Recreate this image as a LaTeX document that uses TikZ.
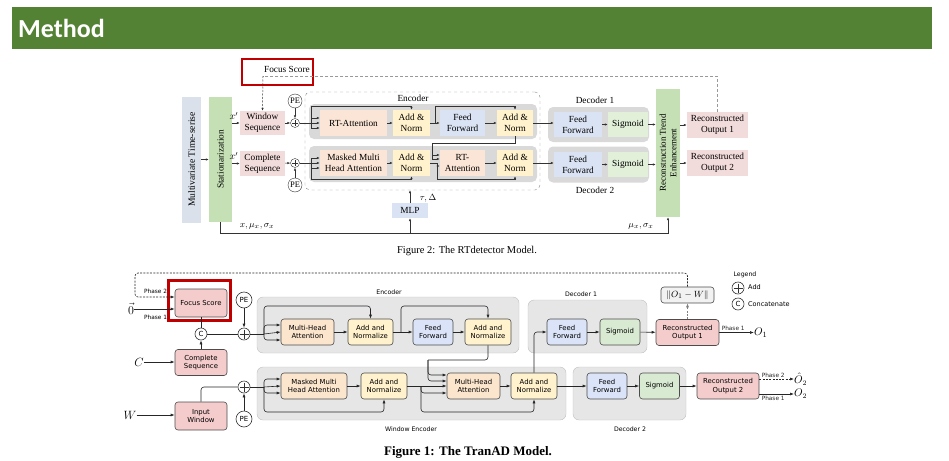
\documentclass[tikz,border=0pt]{standalone}
\usepackage{fontspec}
\setmainfont{Liberation Serif}
\newfontfamily\dejavu{DejaVu Sans}
\newfontfamily\carlito{Carlito}
\usetikzlibrary{arrows.meta}
\definecolor{bandgreen}{HTML}{548235}
\definecolor{hired}{HTML}{C00000}
\definecolor{tblue}{HTML}{DAE1EB}
\definecolor{tgreen}{HTML}{C5E0B4}
\definecolor{tpink}{HTML}{F2DCDB}
\definecolor{tpeach}{HTML}{FBE5D6}
\definecolor{tyellow}{HTML}{FFF2CC}
\definecolor{tff}{HTML}{DAE3F3}
\definecolor{tsig}{HTML}{E2F0D9}
\definecolor{tgray}{HTML}{D9D9D9}
\definecolor{bpink}{HTML}{F4CCCC}
\definecolor{bpeach}{HTML}{FCE5CD}
\definecolor{byellow}{HTML}{FFF2CC}
\definecolor{bblue}{HTML}{DAE3F7}
\definecolor{bgreen}{HTML}{D9EAD3}
\definecolor{bgray}{HTML}{E6E6E6}
\tikzset{
  rt/.style={inner sep=0pt, align=center, font=\fontsize{9.3}{11}\selectfont},
  rtrow/.style={fill=tgray, rounded corners=5pt},
  tl/.style={black!80, line width=0.5pt},
  tarr/.style={tl, -{Latex[length=3pt,width=2.4pt]}},
  tcirc/.style={draw=black!80, circle, inner sep=0pt, minimum size=14pt, font=\fontsize{8.5}{9}\selectfont},
  oplus/.style={draw=black!80, circle, inner sep=0pt, minimum size=#1,
    path picture={\draw[black!80] ([yshift=-1.5pt]path picture bounding box.north) -- ([yshift=1.5pt]path picture bounding box.south)
      ([xshift=1.5pt]path picture bounding box.west) -- ([xshift=-1.5pt]path picture bounding box.east);}},
  bx/.style={draw=black!70, rounded corners=3pt, inner sep=0pt, align=center, line width=0.6pt,
    font=\dejavu\fontsize{6.9}{8.2}\selectfont},
  grp/.style={draw=black!25, fill=bgray, rounded corners=6pt},
  bl/.style={black!85, line width=0.6pt, rounded corners=3pt},
  barr/.style={bl, -{Latex[length=4pt,width=3pt]}},
  bcirc/.style={draw=black!80, circle, inner sep=0pt, minimum size=#1, line width=0.6pt, font=\dejavu\fontsize{7}{8}\selectfont},
  small/.style={font=\dejavu\fontsize{5.8}{6}\selectfont, inner sep=0pt},
  glabel/.style={font=\dejavu\fontsize{6.2}{7}\selectfont, inner sep=0pt}
}
\begin{document}
\begin{tikzpicture}[x=1pt,y=-1pt]
\useasboundingbox (0,0) rectangle (949,460);
\fill[bandgreen] (12,7) rectangle (932,49);
\node[anchor=west, inner sep=0pt, text=white, font=\carlito\bfseries\fontsize{26}{28}\selectfont] (title) at (18,28) {Method};

% ---------- RTdetector ----------
\node[draw=black!45, dashed, rounded corners=5pt, minimum width=235pt, minimum height=98pt] (enc) at (422.5,141) {};
\node[rt] (enclab) at (413,98.5) {Encoder};
\node[rtrow, minimum width=228pt, minimum height=35pt] (row1) at (423,121.5) {};
\node[rtrow, minimum width=228pt, minimum height=36pt] (row2) at (423,164) {};
\node[rtrow, minimum width=101pt, minimum height=35pt] (dec1) at (598.5,124.5) {};
\node[rtrow, minimum width=101pt, minimum height=36pt] (dec2) at (598.5,164.5) {};
\node[rt] (dec1lab) at (595,100) {Decoder 1};
\node[rt] (dec2lab) at (595,190) {Decoder 2};

\node[rt, fill=tblue, rotate=90, minimum width=126pt, minimum height=19pt, font=\fontsize{9.6}{10}\selectfont] (mts) at (191.5,159.5) {Multivariate Time-serise};
\node[rt, fill=tgreen, rotate=90, minimum width=125pt, minimum height=23pt] (stat) at (220.5,159.5) {Stationarization};
\node[rt, fill=tpink, minimum width=45pt, minimum height=24pt] (ws) at (262.5,123) {Window\\Sequence};
\node[rt, fill=tpink, minimum width=45pt, minimum height=25pt] (cs) at (262.5,163.5) {Complete\\Sequence};
\node[tcirc] (pe1) at (295,101) {PE};
\node[oplus=9pt] (add1) at (295,123) {};
\node[oplus=9pt] (add2) at (295,163) {};
\node[tcirc] (pe2) at (295,185) {PE};

\node[rt, fill=tpeach, minimum width=67pt, minimum height=26pt] (rta) at (353.5,123) {RT-Attention};
\node[rt, fill=tyellow, minimum width=37pt, minimum height=26pt] (an1) at (411.5,123) {Add \&\\Norm};
\node[rt, fill=tff, minimum width=45pt, minimum height=26pt] (ff1) at (462.5,123) {Feed\\Forward};
\node[rt, fill=tyellow, minimum width=36pt, minimum height=26pt] (an2) at (515,123) {Add \&\\Norm};
\node[rt, fill=tpeach, minimum width=67pt, minimum height=26pt] (mmha) at (353.5,163) {Masked Multi\\Head Attention};
\node[rt, fill=tyellow, minimum width=37pt, minimum height=26pt] (an3) at (411.5,163) {Add \&\\Norm};
\node[rt, fill=tpeach, minimum width=45pt, minimum height=26pt] (rta2) at (462.5,163) {RT-\\Attention};
\node[rt, fill=tyellow, minimum width=36pt, minimum height=26pt] (an4) at (515,163) {Add \&\\Norm};

\node[rt, fill=tff, minimum width=48pt, minimum height=25pt] (dff1) at (578,124.5) {Feed\\Forward};
\node[rt, fill=tsig, minimum width=40pt, minimum height=25pt] (sig1) at (628,124.5) {Sigmoid};
\node[rt, fill=tff, minimum width=48pt, minimum height=25pt] (dff2) at (578,164.5) {Feed\\Forward};
\node[rt, fill=tsig, minimum width=40pt, minimum height=25pt] (sig2) at (628,164.5) {Sigmoid};
\node[rt, fill=tgreen, rotate=90, minimum width=128pt, minimum height=24pt, font=\fontsize{9}{10.5}\selectfont] (rte) at (668,153) {Reconstruction Trend\\Enhancement};
\node[rt, fill=tpink, minimum width=61pt, minimum height=26pt] (ro1) at (717.5,125) {Reconstructed\\Output 1};
\node[rt, fill=tpink, minimum width=61pt, minimum height=26pt] (ro2) at (717.5,163) {Reconstructed\\Output 2};
\node[rt, fill=tff, minimum width=36pt, minimum height=15pt] (mlp) at (410,210.5) {MLP};

\node[rt] (fstxt) at (287,69) {Focus Score};
\node[draw=hired, line width=2.5pt, minimum width=71pt, minimum height=26pt] (fsbox1) at (277.5,72) {};

\node[inner sep=0pt, font=\fontsize{10}{10}\selectfont] (xp1) at (234,116) {$x'$};
\node[inner sep=0pt, font=\fontsize{10}{10}\selectfont] (xp2) at (234,156) {$x'$};
\node[inner sep=0pt, font=\fontsize{9.5}{10}\selectfont] (tau) at (428,198) {$\tau,\Delta$};
\node[inner sep=0pt, font=\fontsize{9.5}{10}\selectfont] (lab1) at (257,226) {$x,\mu_x,\sigma_x$};
\node[inner sep=0pt, font=\fontsize{9.5}{10}\selectfont] (lab2) at (641,226) {$\mu_x,\sigma_x$};

\draw[tarr] (mts.south) -- (stat.north);
\draw[tarr] (stat.south |- ws) -- (ws.west);
\draw[tarr] (stat.south |- cs) -- (cs.west);
\draw[tarr] (ws) -- (add1);
\draw[tarr] (cs) -- (add2);
\draw[tarr] (pe1) -- (add1);
\draw[tarr] (pe2) -- (add2);
\coordinate (fb) at (263,76);
\draw[gray!80, dash pattern=on 3pt off 2pt] (ro1.north) |- (fb);
\draw[tarr, dash pattern=on 2pt off 1.5pt] (fb) -- (ws.north);
% row 1
\coordinate (t1) at (311,123);
\draw[tl] (add1.east) -- (t1);
\draw[tarr] (t1) -- (rta.west);
\draw[tarr] (t1) |- ([yshift=5pt]rta.west);
\draw[tarr] (t1) |- ([yshift=-5pt]rta.west);
\draw[tarr] (t1) -- (311,106) -| (an1.north);
\draw[tarr] (rta) -- (an1);
\draw[tarr] (an1) -- (ff1);
\draw[tarr] (435,123) -- (435,106) -| (an2.north);
\draw[tarr] (ff1) -- (an2);
% row 2
\coordinate (t3) at (432,143);
\draw[tl] (an2.south) |- (t3);
\draw[tarr] (t3) |- ([yshift=8pt]rta2.west);
\draw[tarr] (t3) |- ([yshift=4pt]rta2.west);
\coordinate (t4) at (437,163);
\draw[tl] (an3.east) -- (t4);
\draw[tarr] (t4) |- ([yshift=-3pt]rta2.west);
\draw[tarr] (t4) -- (437,179) -| (an4.south);
\coordinate (t5) at (311,163);
\draw[tl] (add2.east) -- (t5);
\draw[tarr] (t5) -- (mmha.west);
\draw[tarr] (t5) |- ([yshift=5pt]mmha.west);
\draw[tarr] (t5) |- ([yshift=-5pt]mmha.west);
\draw[tarr] (t5) -- (311,179) -| (an3.south);
\draw[tarr] (mmha) -- (an3);
\draw[tarr] (rta2) -- (an4);
% decoders and outputs
\draw[tarr] (an2.east) -- (an2.east -| dff1.west);
\draw[tarr] (an4.east) -- (an4.east -| dff2.west);
\draw[tarr] (dff1) -- (sig1);
\draw[tarr] (dff2) -- (sig2);
\draw[tarr] (sig1.east) -- (sig1.east -| rte.north);
\draw[tarr] (sig2.east) -- (sig2.east -| rte.north);
\draw[tarr] (rte.south |- ro1) -- (ro1.west);
\draw[tarr] (rte.south |- ro2) -- (ro2.west);
\coordinate (sb) at (220.5,233);
\draw[tarr] (stat.west) -- (sb) -| (rte.west);
\draw[tarr] (sb -| mlp.south) -- (mlp.south);
\draw[tarr] (mlp.north) -- (mlp.north |- enc.south);
\node[inner sep=0pt, font=\fontsize{10.5}{11}\selectfont] (cap2) at (467,251) {Figure 2: The RTdetector Model.};

% ---------- TranAD ----------
\node[grp, minimum width=262pt, minimum height=56pt] (benc) at (388,325) {};
\node[grp, minimum width=309pt, minimum height=53pt] (wenc) at (411.5,393.5) {};
\node[grp, minimum width=119pt, minimum height=53pt] (bdec1) at (587.5,326.5) {};
\node[grp, minimum width=113pt, minimum height=53pt] (bdec2) at (629.5,393.5) {};
\node[glabel] (benclab) at (389,292) {Encoder};
\node[glabel] (wenclab) at (411,429) {Window Encoder};
\node[glabel] (bdec1lab) at (581,294) {Decoder 1};
\node[glabel] (bdec2lab) at (630,429) {Decoder 2};

\node[bx, fill=bpink, minimum width=52pt, minimum height=28pt] (fs) at (201,303) {Focus Score};
\node[bx, fill=bpink, minimum width=52pt, minimum height=26pt] (cseq) at (201,362.5) {Complete\\Sequence};
\node[bx, fill=bpink, minimum width=52pt, minimum height=28pt] (inwin) at (201,416) {Input\\Window};
\node[draw=hired, line width=2.5pt, minimum width=62pt, minimum height=40pt] (fsbox2) at (199.5,300.5) {};
\node[bcirc=12pt] (cat) at (201,334) {C};
\node[bcirc=16pt] (pe3) at (244,300) {PE};
\node[bcirc=16pt] (pe4) at (244,419) {PE};
\node[oplus=12pt, line width=0.6pt] (add3) at (244,334) {};
\node[oplus=12pt, line width=0.6pt] (add4) at (244,387) {};

\node[bx, fill=bpeach, minimum width=53pt, minimum height=26pt] (mha1) at (307.5,332) {Multi-Head\\Attention};
\node[bx, fill=byellow, minimum width=45pt, minimum height=26pt] (an5) at (370.5,332) {Add and\\Normalize};
\node[bx, fill=bblue, minimum width=40pt, minimum height=26pt] (ff3) at (433,332) {Feed\\Forward};
\node[bx, fill=byellow, minimum width=46pt, minimum height=26pt] (an6) at (488,332) {Add and\\Normalize};
\node[bx, fill=bpeach, minimum width=66pt, minimum height=26pt] (mmha2) at (314,386) {Masked Multi\\Head Attention};
\node[bx, fill=byellow, minimum width=46pt, minimum height=26pt] (an7) at (384,386) {Add and\\Normalize};
\node[bx, fill=bpeach, minimum width=53pt, minimum height=26pt] (mha2) at (473.5,386) {Multi-Head\\Attention};
\node[bx, fill=byellow, minimum width=46pt, minimum height=26pt] (an8) at (534,386) {Add and\\Normalize};
\node[bx, fill=bblue, minimum width=40pt, minimum height=26pt] (dff3) at (567,332) {Feed\\Forward};
\node[bx, fill=bgreen, minimum width=40pt, minimum height=26pt] (sig3) at (620,332) {Sigmoid};
\node[bx, fill=bblue, minimum width=40pt, minimum height=26pt] (dff4) at (607,386) {Feed\\Forward};
\node[bx, fill=bgreen, minimum width=40pt, minimum height=26pt] (sig4) at (659.5,386) {Sigmoid};
\node[bx, fill=bpink, minimum width=63pt, minimum height=26pt] (bro1) at (687.5,332.5) {Reconstructed\\Output 1};
\node[bx, fill=bpink, minimum width=62pt, minimum height=26pt] (bro2) at (728,386) {Reconstructed\\Output 2};
\node[bx, fill=black!5, minimum width=53pt, minimum height=16pt, font=\fontsize{9.5}{10}\selectfont] (norm) at (687.5,295) {$\|O_1-W\|$};

\node[inner sep=0pt, font=\fontsize{12}{12}\selectfont] (zero) at (131,309) {$\vec{0}$};
\node[inner sep=0pt, font=\fontsize{12.5}{12}\selectfont] (clab) at (139,362) {$C$};
\node[inner sep=0pt, font=\fontsize{12.5}{12}\selectfont] (wlab) at (130,415) {$W$};
\node[anchor=west, inner sep=0pt, font=\fontsize{11}{12}\selectfont] (o1) at (754,333) {$O_1$};
\node[anchor=west, inner sep=0pt, font=\fontsize{10.5}{11}\selectfont] (o2h) at (794,379) {$\hat{O}_2$};
\node[anchor=west, inner sep=0pt, font=\fontsize{10.5}{11}\selectfont] (o2) at (794,394) {$O_2$};

\node[glabel] (leg) at (745,275) {Legend};
\node[oplus=12pt, line width=0.6pt] (legadd) at (738,288) {};
\node[small, anchor=west, font=\dejavu\fontsize{6.5}{7}\selectfont] (legaddt) at (748,287) {Add};
\node[bcirc=12pt] (legcat) at (738,304) {C};
\node[small, anchor=west, font=\dejavu\fontsize{6.5}{7}\selectfont] (legcatt) at (748,304) {Concatenate};

\draw[barr, dash pattern=on 2pt off 1.3pt] (norm.north) |- (135,273) |- ([yshift=6pt]fs.west);
\node[small, anchor=west] (ph2a) at (144,291) {Phase 2};
\draw[barr] (zero.east) -- (zero.east -| fs.west);
\node[small, anchor=west] (ph1a) at (144,317) {Phase 1};
\draw[barr] (clab.east) -- (clab.east -| cseq.west);
\draw[barr] (wlab.east) -- (wlab.east -| inwin.west);
\draw[bl] (fs) -- (cat);
\draw[barr] (cseq) -- (cat);
\draw[bl] (cat) -- (add3);
\draw[barr] (pe3) -- (add3);
\draw[bl] (inwin.north) |- (add4.west);
\draw[barr] (pe4) -- (add4);
% encoder
\coordinate (g1) at (264,334);
\draw[bl] (add3.east) -- (g1);
\draw[barr] (g1) -- (mha1.west);
\draw[barr] (g1) |- ([yshift=7pt]mha1.west);
\draw[barr] (g1) |- ([yshift=-8pt]mha1.west);
\draw[barr] (g1) -- (264,306) -| (an5.north);
\draw[barr] (mha1) -- (an5);
\draw[barr] (an5) -- (ff3);
\draw[barr] (401,332) -- (401,306) -| (an6.north);
\draw[barr] (ff3) -- (an6);
% window encoder
\coordinate (g5) at (264,387);
\draw[bl] (add4.east) -- (g5);
\draw[barr] (g5) -- (mmha2.west);
\draw[barr] (g5) |- ([yshift=7pt]mmha2.west);
\draw[barr] (g5) |- ([yshift=-7pt]mmha2.west);
\draw[barr] (g5) -- (264,412) -| (an7.south);
\draw[barr] (mmha2) -- (an7);
\coordinate (g3) at (428,360);
\draw[bl] (an6.south) |- (g3);
\draw[barr] (g3) |- ([yshift=11pt]mha2.west);
\draw[barr] (g3) |- ([yshift=5pt]mha2.west);
\coordinate (g4) at (421,386);
\draw[bl] (an7.east) -- (g4);
\draw[barr] (g4) -- (mha2.west);
\draw[barr] (g4) |- ([yshift=-7pt]mha2.west);
\draw[barr] (g4) -- (421,412) -| (an8.south);
\draw[barr] (mha2) -- (an8);
% decoders
\draw[barr] (an8.north) |- (dff3.west);
\draw[barr] (an8) -- (dff4);
\draw[barr] (dff3) -- (sig3);
\draw[barr] (sig3) -- (bro1);
\draw[barr] (dff4) -- (sig4);
\draw[barr] (sig4) -- (bro2);
\draw[barr, gray, dash pattern=on 2pt off 1.3pt] (bro1.north) -- (norm.south);
\draw[barr] (bro1.east) -- (bro1.east -| o1.west) node[small, pos=0.4, above=1.5pt] (ph1b) {Phase 1};
\draw[barr, dash pattern=on 2pt off 1.3pt] (bro2.east |- o2h) -- (o2h.west) node[small, pos=0.4, above=1.5pt] (ph2c) {Phase 2};
\draw[barr] (bro2.east |- o2) -- (o2.west) node[small, pos=0.4, below=2pt] (ph1c) {Phase 1};
\node[inner sep=0pt, font=\bfseries\fontsize{13}{14}\selectfont] (cap1) at (468,452) {Figure 1: The TranAD Model.};
\end{tikzpicture}
\end{document}
